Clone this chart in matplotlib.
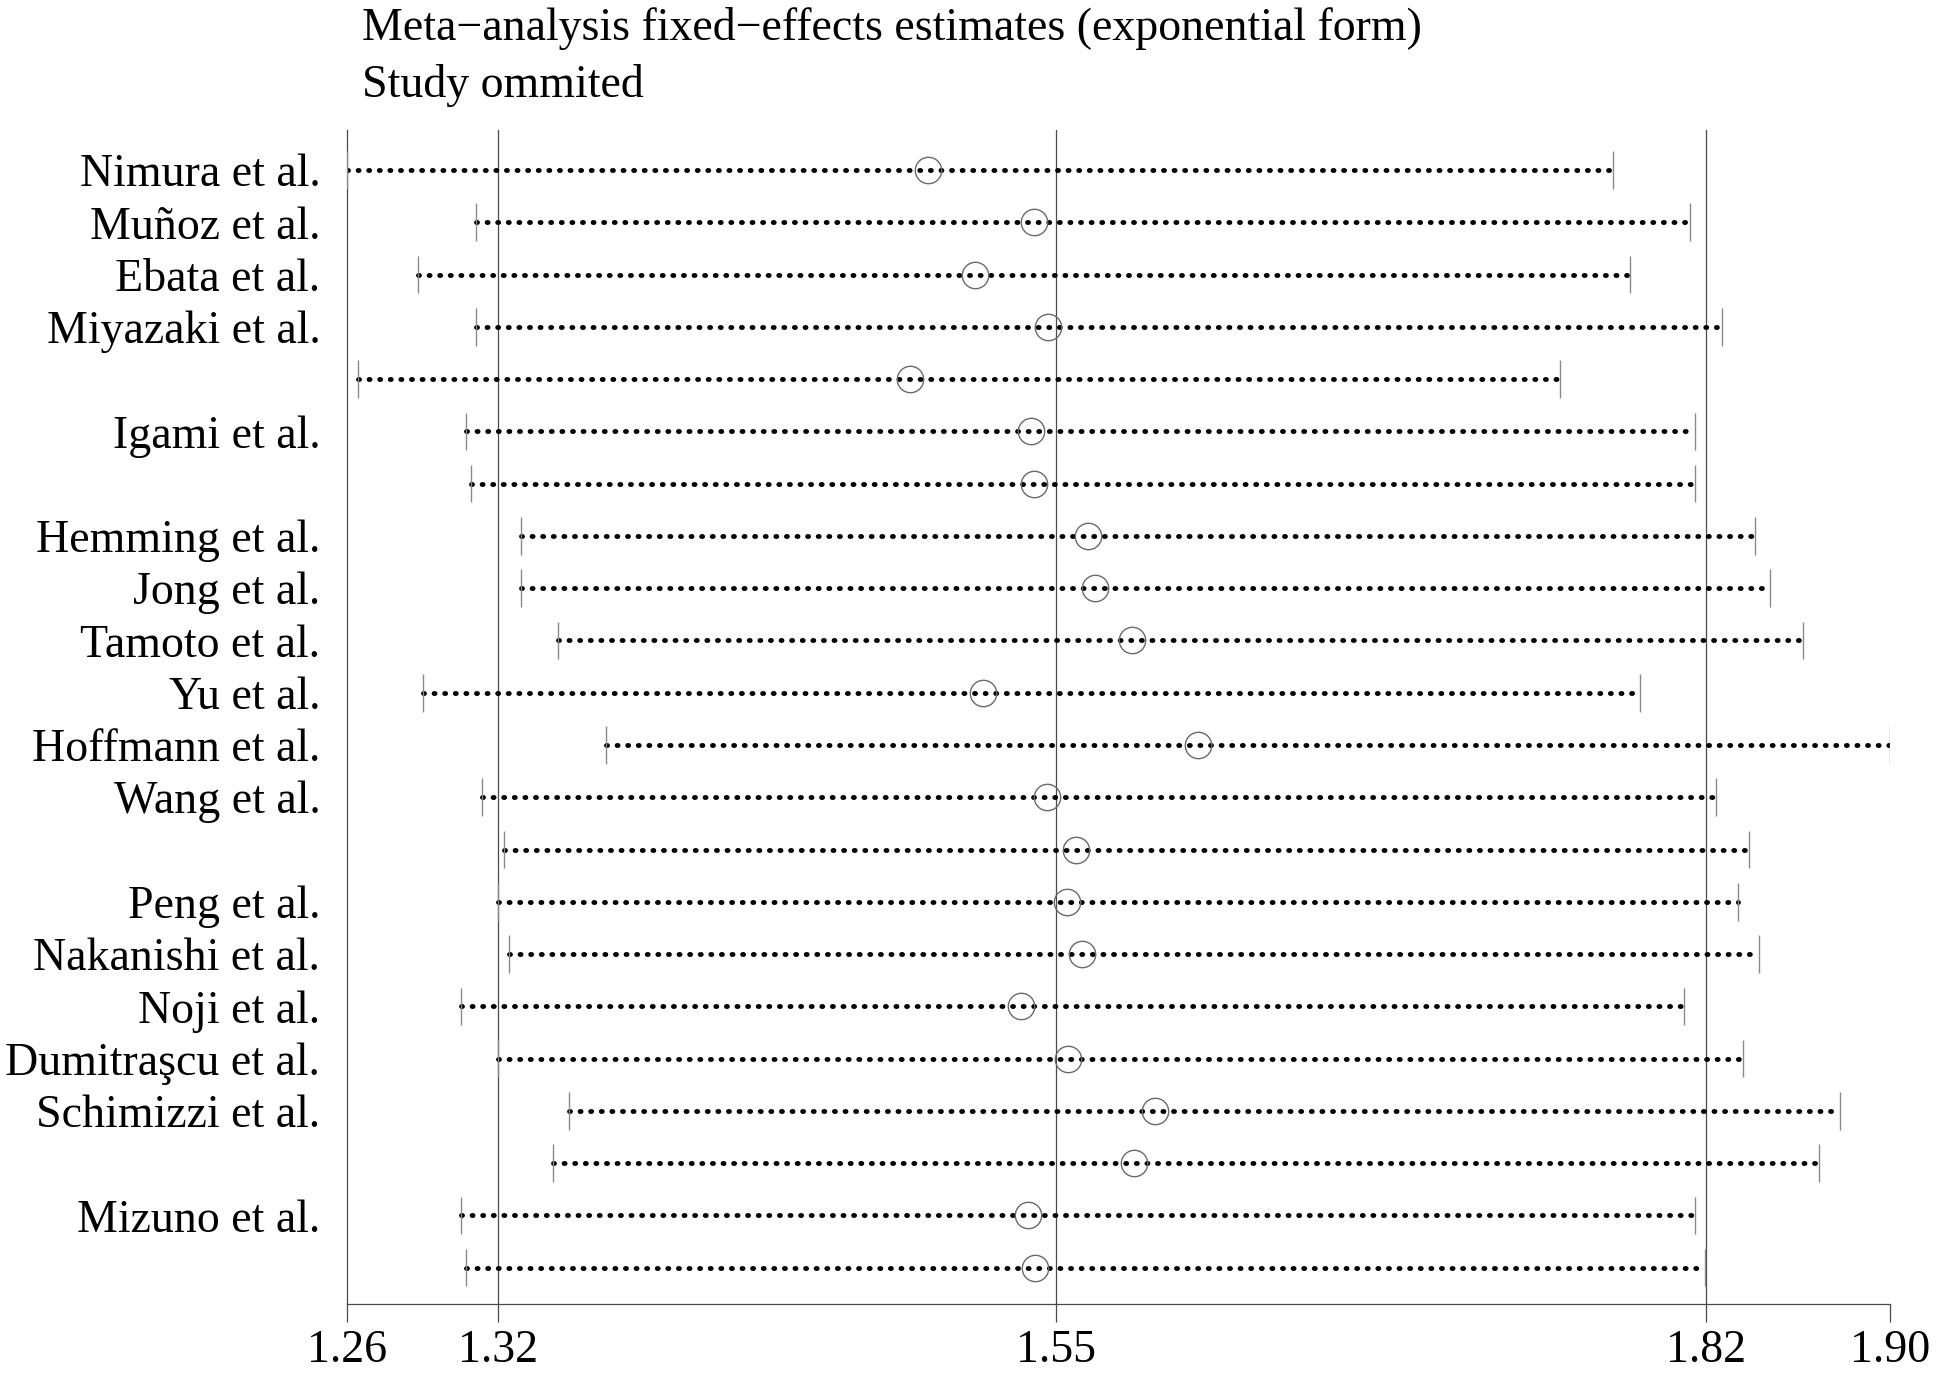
import matplotlib
matplotlib.use("Agg")
import matplotlib.pyplot as plt

# ---- data ----
studies = ["Nimura et al.", "Muñoz et al.", "Ebata et al.", "Miyazaki et al.", "",
           "Igami et al.", "", "Hemming et al.", "Jong et al.", "Tamoto et al.",
           "Yu et al.", "Hoffmann et al.", "Wang et al.", "", "Peng et al.",
           "Nakanishi et al.", "Noji et al.", "Dumitraşcu et al.", "Schimizzi et al.", "",
           "Mizuno et al.", ""]
lower = [1.2600, 1.3137, 1.2894, 1.3137, 1.2648, 1.3095, 1.3117, 1.3322, 1.3322, 1.3478,
         1.2918, 1.3677, 1.3163, 1.3251, 1.3229, 1.3273, 1.3073, 1.3229, 1.3522, 1.3456,
         1.3073, 1.3095]
estimate = [1.5009, 1.5450, 1.5206, 1.5507, 1.4937, 1.5436, 1.5450, 1.5675, 1.5703, 1.5858,
            1.5239, 1.6129, 1.5505, 1.5623, 1.5588, 1.5648, 1.5398, 1.5593, 1.5951, 1.5866,
            1.5424, 1.5456]
upper = [1.7851, 1.8169, 1.7920, 1.8303, 1.7630, 1.8190, 1.8190, 1.8439, 1.8502, 1.8638,
         1.7965, 1.9000, 1.8278, 1.8414, 1.8368, 1.8458, 1.8144, 1.8389, 1.8794, 1.8707,
         1.8190, 1.8234]
overall = [1.3229, 1.5540, 1.8236]   # overall lower CI, estimate, upper CI
title_lines = ["Meta\u2212analysis fixed\u2212effects estimates (exponential form)",
               "Study ommited"]

# ---- styling ----
plt.rcParams['font.family'] = ['Liberation Serif', 'DejaVu Serif']
FS = 33
W, H = 1944, 1377
fig = plt.figure(figsize=(W / 100, H / 100), dpi=100)
ax_left, ax_right, ax_top, ax_bot = 346.7, 1890, 130, 1304
ax = fig.add_axes([ax_left / W, 1 - ax_bot / H, (ax_right - ax_left) / W, (ax_bot - ax_top) / H])

n = len(studies)
rows = list(range(n))
line_col = '#4a4a4a'

xmin, xmax = min(lower), max(upper)
ax.set_xlim(xmin, xmax)
row_px = 52.27
ax.set_ylim((ax_bot - 170) / row_px, -(170 - ax_top) / row_px)

# overall reference lines
for v in overall:
    ax.axvline(v, color=line_col, lw=0.9, zorder=1)

# dotted CI lines
for i in rows:
    ax.plot([lower[i], upper[i]], [i, i], color='black', lw=3.5,
            linestyle=(0, (0.2, 1.98)), dash_capstyle='round', solid_capstyle='round', zorder=2)
# CI end ticks
ax.vlines(lower, [r - 0.36 for r in rows], [r + 0.36 for r in rows], color='#8a8a8a', lw=1.0, zorder=3)
ax.vlines(upper, [r - 0.36 for r in rows], [r + 0.36 for r in rows], color='#8a8a8a', lw=1.0, zorder=3)
# estimates
ax.plot(estimate, rows, linestyle='none', marker='o', markersize=19, markerfacecolor='none',
        markeredgecolor='#6a6a6a', markeredgewidth=1.0, zorder=4)

# axes styling
for s in ['top', 'right']:
    ax.spines[s].set_visible(False)
for s in ['left', 'bottom']:
    ax.spines[s].set_color(line_col)
    ax.spines[s].set_linewidth(0.9)

xticks = [xmin] + overall + [xmax]
ax.set_xticks(xticks)
ax.set_xticklabels([f"{v:.2f}" for v in xticks], fontsize=FS)
ax.tick_params(axis='x', length=13, width=0.9, color=line_col, pad=5)

ax.set_yticks(rows)
ax.set_yticklabels(studies, fontsize=FS)
ax.tick_params(axis='y', length=0, pad=19)

fig.text(362 / W, 1 - 40 / H, title_lines[0], fontsize=FS, ha='left', va='baseline')
fig.text(362 / W, 1 - 97 / H, title_lines[1], fontsize=FS, ha='left', va='baseline')

fig.savefig("out.png", dpi=100, facecolor='white')
